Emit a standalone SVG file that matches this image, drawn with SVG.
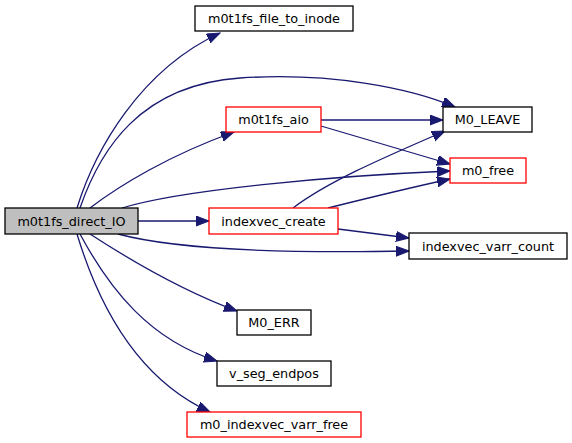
<svg xmlns="http://www.w3.org/2000/svg" width="572" height="443" viewBox="0 0 572 443">
<style>
.n rect{fill:#fff;stroke:#000;stroke-width:1.3}
.n.r rect{stroke:#ff0000}
.n.root rect{fill:#bfbfbf;stroke:#000}
.n text{font-family:"DejaVu Sans",sans-serif;font-size:12.8px;text-anchor:middle;fill:#000}
#edges path{fill:none;stroke:#191970;stroke-width:1.3;marker-end:url(#a)}
</style>
<defs>
<marker id="a" markerUnits="userSpaceOnUse" markerWidth="14" markerHeight="11" refX="13" refY="5" orient="auto">
<path d="M0,0 L13,5 L0,10 z" fill="#191970" stroke="#191970" stroke-width="1"/>
</marker>
</defs>
<rect width="572" height="443" fill="#fff"/>
<g id="edges">
<path d="M77,208 C95,150 140,70 220,33"/>
<path d="M80,208 C100,150 140,85 240,78 C330,72 410,88 455,107"/>
<path d="M90,208 C120,185 170,155 234,132"/>
<path d="M122,208 C180,190 330,176 450,171"/>
<path d="M138,221 L209,221"/>
<path d="M118,234 C170,248 260,254 409,251"/>
<path d="M90,234 C130,260 180,290 237,311"/>
<path d="M80,234 C110,290 150,340 217,361"/>
<path d="M77,234 C100,310 140,380 210,412"/>
<path d="M321,120 L443,120"/>
<path d="M321,126 L450,164"/>
<path d="M293,208 C330,180 390,155 445,131"/>
<path d="M328,208 C360,200 400,190 450,179"/>
<path d="M338,229 L409,238"/>
</g>
<g id="n_direct_IO" class="n root"><rect x="5" y="208" width="133" height="26"/><text x="71.5" y="225.5">m0t1fs_direct_IO</text></g>
<g id="n_file_to_inode" class="n"><rect x="195" y="6" width="158" height="25"/><text x="274" y="23">m0t1fs_file_to_inode</text></g>
<g id="n_aio" class="n r"><rect x="226" y="107" width="95" height="25"/><text x="273.5" y="124">m0t1fs_aio</text></g>
<g id="n_indexvec_create" class="n r"><rect x="209" y="208" width="129" height="26"/><text x="273.5" y="225.5">indexvec_create</text></g>
<g id="n_M0_LEAVE" class="n"><rect x="443" y="107" width="89" height="25"/><text x="487.5" y="124">M0_LEAVE</text></g>
<g id="n_m0_free" class="n r"><rect x="450" y="158" width="76" height="25"/><text x="488" y="175">m0_free</text></g>
<g id="n_varr_count" class="n"><rect x="409" y="233" width="158" height="26"/><text x="488" y="250.5">indexvec_varr_count</text></g>
<g id="n_M0_ERR" class="n"><rect x="237" y="310" width="74" height="25"/><text x="274" y="327">M0_ERR</text></g>
<g id="n_v_seg_endpos" class="n"><rect x="217" y="361" width="114" height="25"/><text x="274" y="378">v_seg_endpos</text></g>
<g id="n_varr_free" class="n r"><rect x="187" y="412" width="174" height="25"/><text x="274" y="429">m0_indexvec_varr_free</text></g>
</svg>
